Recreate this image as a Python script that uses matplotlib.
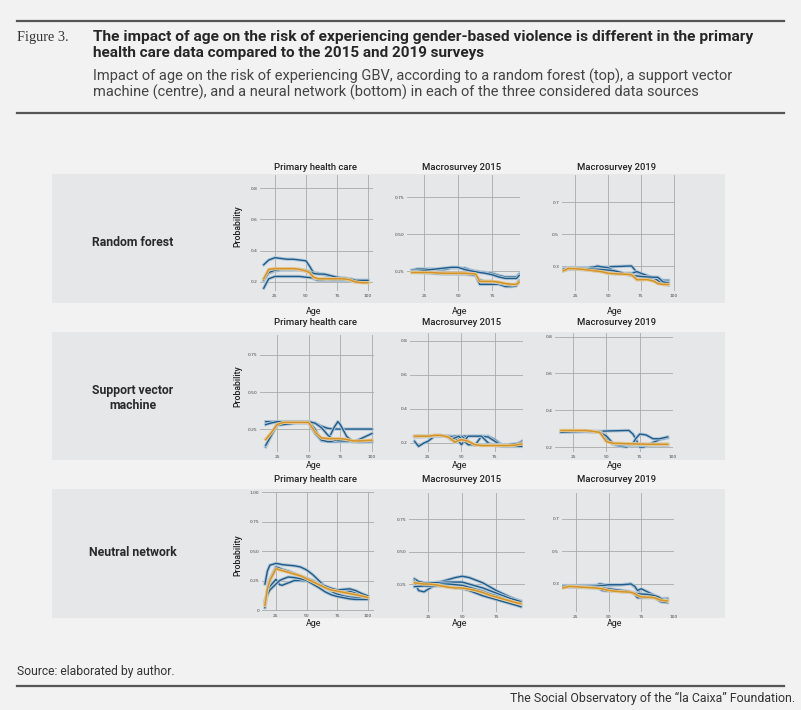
import matplotlib
matplotlib.use("Agg")
import matplotlib.pyplot as plt
import matplotlib.patheffects as pe
from matplotlib.patches import Rectangle
from matplotlib.lines import Line2D

# ---------------- data ----------------
row_labels = ["Random forest", "Support vector\nmachine", "Neutral network"]
col_labels = ["Primary health care", "Macrosurvey 2015", "Macrosurvey 2019"]

# Random forest - primary health care
rf_phc_age = [16, 20, 25, 30, 35, 40, 45, 50, 53, 56, 60, 65, 70, 75, 80, 85, 88, 90, 95, 100]
rf_phc_b1 = [0.31, 0.34, 0.355, 0.35, 0.345, 0.345, 0.34, 0.335, 0.30, 0.26, 0.255, 0.245, 0.235, 0.23, 0.225, 0.22, 0.215, 0.21, 0.21, 0.21]
rf_phc_b2 = [0.22, 0.255, 0.27, 0.275, 0.275, 0.275, 0.275, 0.27, 0.26, 0.22, 0.21, 0.21, 0.21, 0.21, 0.21, 0.21, 0.205, 0.20, 0.20, 0.20]
rf_phc_b3 = [0.16, 0.22, 0.235, 0.235, 0.235, 0.235, 0.235, 0.23, 0.228, 0.225, 0.22, 0.218, 0.215, 0.215, 0.215, 0.215, 0.205, 0.20, 0.20, 0.20]
rf_phc_b4 = [0.21, 0.26, 0.275, 0.28, 0.28, 0.28, 0.28, 0.275, 0.265, 0.255, 0.25, 0.25, 0.24, 0.23, 0.225, 0.22, 0.215, 0.21, 0.21, 0.21]
rf_phc_or = [0.22, 0.28, 0.285, 0.285, 0.285, 0.285, 0.28, 0.27, 0.26, 0.23, 0.22, 0.22, 0.22, 0.22, 0.22, 0.215, 0.205, 0.20, 0.195, 0.195]

# Random forest - macrosurvey 2015
rf_m15_age = [16, 20, 25, 30, 35, 40, 45, 50, 55, 60, 63, 66, 70, 75, 80, 85, 90, 93, 95]
rf_m15_b1 = [0.255, 0.265, 0.265, 0.265, 0.26, 0.26, 0.27, 0.27, 0.27, 0.255, 0.25, 0.245, 0.24, 0.235, 0.22, 0.21, 0.21, 0.21, 0.23]
rf_m15_b2 = [0.255, 0.255, 0.255, 0.26, 0.265, 0.27, 0.275, 0.275, 0.26, 0.25, 0.245, 0.24, 0.235, 0.225, 0.21, 0.20, 0.20, 0.20, 0.22]
rf_m15_b3 = [0.245, 0.245, 0.24, 0.238, 0.235, 0.23, 0.23, 0.23, 0.23, 0.225, 0.22, 0.16, 0.16, 0.16, 0.16, 0.145, 0.145, 0.15, 0.18]
rf_m15_b4 = [0.24, 0.24, 0.238, 0.235, 0.232, 0.232, 0.232, 0.23, 0.228, 0.225, 0.22, 0.19, 0.18, 0.18, 0.17, 0.16, 0.155, 0.16, 0.185]
rf_m15_or = [0.24, 0.24, 0.24, 0.24, 0.237, 0.235, 0.235, 0.235, 0.235, 0.232, 0.23, 0.18, 0.18, 0.18, 0.175, 0.165, 0.16, 0.16, 0.175]

# Random forest - macrosurvey 2019
rf_m19_age = [16, 20, 25, 30, 35, 40, 42, 45, 50, 55, 60, 65, 68, 72, 75, 80, 85, 88, 92, 96]
rf_m19_b1 = [0.28, 0.29, 0.29, 0.29, 0.29, 0.29, 0.29, 0.29, 0.295, 0.297, 0.298, 0.30, 0.30, 0.26, 0.25, 0.23, 0.228, 0.225, 0.21, 0.21]
rf_m19_b2 = [0.275, 0.29, 0.29, 0.29, 0.29, 0.295, 0.30, 0.295, 0.29, 0.27, 0.255, 0.255, 0.255, 0.265, 0.255, 0.24, 0.225, 0.215, 0.20, 0.20]
rf_m19_b3 = [0.27, 0.28, 0.28, 0.278, 0.275, 0.27, 0.268, 0.265, 0.255, 0.252, 0.25, 0.25, 0.25, 0.215, 0.215, 0.22, 0.225, 0.21, 0.185, 0.18]
rf_m19_b4 = [0.28, 0.285, 0.285, 0.285, 0.283, 0.28, 0.28, 0.278, 0.275, 0.27, 0.26, 0.245, 0.24, 0.238, 0.235, 0.232, 0.23, 0.23, 0.20, 0.195]
rf_m19_or = [0.27, 0.285, 0.283, 0.28, 0.275, 0.27, 0.268, 0.265, 0.255, 0.252, 0.25, 0.248, 0.245, 0.215, 0.215, 0.215, 0.205, 0.19, 0.185, 0.185]

# SVM - primary health care
svm_phc_age = [16, 20, 25, 30, 35, 40, 45, 50, 55, 60, 65, 70, 73, 75, 80, 85, 90, 95, 100]
svm_phc_b1 = [0.30, 0.30, 0.30, 0.30, 0.30, 0.30, 0.30, 0.30, 0.29, 0.27, 0.255, 0.25, 0.25, 0.25, 0.25, 0.25, 0.25, 0.25, 0.25]
svm_phc_b2 = [0.13, 0.20, 0.29, 0.30, 0.30, 0.30, 0.30, 0.30, 0.25, 0.17, 0.17, 0.26, 0.30, 0.28, 0.20, 0.165, 0.16, 0.162, 0.165]
svm_phc_b3 = [0.14, 0.20, 0.275, 0.28, 0.285, 0.29, 0.29, 0.29, 0.22, 0.175, 0.165, 0.165, 0.165, 0.165, 0.165, 0.165, 0.165, 0.165, 0.165]
svm_phc_b4 = [0.28, 0.29, 0.30, 0.30, 0.30, 0.30, 0.30, 0.30, 0.29, 0.26, 0.21, 0.175, 0.172, 0.17, 0.17, 0.165, 0.18, 0.20, 0.22]
svm_phc_or = [0.18, 0.22, 0.28, 0.295, 0.295, 0.295, 0.295, 0.295, 0.23, 0.19, 0.185, 0.185, 0.185, 0.185, 0.18, 0.17, 0.17, 0.172, 0.175]

# SVM - macrosurvey 2015
svm_m15_age = [15, 18, 22, 25, 30, 35, 40, 42, 45, 48, 50, 55, 60, 65, 70, 75, 80, 85, 90, 95]
svm_m15_b1 = [0.24, 0.24, 0.24, 0.24, 0.24, 0.24, 0.24, 0.24, 0.24, 0.24, 0.24, 0.24, 0.24, 0.24, 0.24, 0.22, 0.19, 0.185, 0.185, 0.21]
svm_m15_b2 = [0.21, 0.18, 0.20, 0.21, 0.24, 0.24, 0.24, 0.23, 0.205, 0.225, 0.24, 0.21, 0.185, 0.24, 0.235, 0.21, 0.185, 0.18, 0.18, 0.18]
svm_m15_b3 = [0.235, 0.235, 0.237, 0.238, 0.24, 0.24, 0.24, 0.238, 0.23, 0.21, 0.19, 0.24, 0.24, 0.24, 0.20, 0.185, 0.18, 0.18, 0.18, 0.18]
svm_m15_b4 = [0.24, 0.24, 0.24, 0.24, 0.245, 0.245, 0.235, 0.22, 0.23, 0.24, 0.225, 0.19, 0.19, 0.19, 0.19, 0.19, 0.19, 0.19, 0.195, 0.20]
svm_m15_or = [0.24, 0.24, 0.24, 0.24, 0.245, 0.245, 0.235, 0.225, 0.205, 0.215, 0.22, 0.21, 0.19, 0.185, 0.185, 0.185, 0.185, 0.185, 0.187, 0.195]

# SVM - macrosurvey 2019
svm_m19_age = [16, 25, 35, 45, 50, 55, 60, 65, 67, 70, 72, 75, 78, 80, 85, 90, 96]
svm_m19_b1 = [0.285, 0.285, 0.285, 0.285, 0.287, 0.288, 0.289, 0.29, 0.29, 0.27, 0.245, 0.20, 0.20, 0.205, 0.225, 0.24, 0.25]
svm_m19_b2 = [0.28, 0.283, 0.285, 0.285, 0.26, 0.215, 0.205, 0.20, 0.205, 0.22, 0.245, 0.27, 0.268, 0.265, 0.245, 0.245, 0.255]
svm_m19_b3 = [0.285, 0.285, 0.285, 0.28, 0.245, 0.215, 0.212, 0.21, 0.21, 0.21, 0.21, 0.21, 0.21, 0.21, 0.21, 0.21, 0.21]
svm_m19_b4 = [0.28, 0.283, 0.285, 0.28, 0.26, 0.22, 0.218, 0.215, 0.215, 0.215, 0.215, 0.215, 0.215, 0.215, 0.215, 0.215, 0.215]
svm_m19_or = [0.29, 0.29, 0.29, 0.28, 0.23, 0.22, 0.22, 0.218, 0.218, 0.217, 0.217, 0.216, 0.216, 0.215, 0.215, 0.215, 0.215]

# Neural network - primary health care
nn_phc_age = [16, 18, 20, 25, 28, 30, 35, 40, 45, 50, 55, 60, 65, 70, 75, 80, 85, 90, 95, 100]
nn_phc_b1 = [0.22, 0.33, 0.38, 0.395, 0.39, 0.385, 0.38, 0.375, 0.365, 0.34, 0.30, 0.25, 0.20, 0.16, 0.135, 0.12, 0.11, 0.105, 0.10, 0.10]
nn_phc_b2 = [0.02, 0.16, 0.26, 0.365, 0.355, 0.345, 0.33, 0.31, 0.29, 0.27, 0.25, 0.22, 0.19, 0.17, 0.165, 0.16, 0.16, 0.145, 0.125, 0.10]
nn_phc_b3 = [0.06, 0.14, 0.20, 0.26, 0.215, 0.21, 0.23, 0.25, 0.25, 0.245, 0.235, 0.22, 0.205, 0.185, 0.17, 0.175, 0.18, 0.165, 0.14, 0.12]
nn_phc_b4 = [0.08, 0.13, 0.17, 0.22, 0.25, 0.26, 0.28, 0.275, 0.265, 0.25, 0.22, 0.19, 0.155, 0.13, 0.115, 0.105, 0.095, 0.09, 0.09, 0.09]
nn_phc_or = [0.04, 0.18, 0.25, 0.35, 0.34, 0.335, 0.32, 0.305, 0.29, 0.265, 0.24, 0.215, 0.19, 0.17, 0.16, 0.15, 0.14, 0.13, 0.12, 0.105]

# Neural network - macrosurvey 2015
nn_m15_age = [15, 18, 22, 25, 30, 35, 40, 45, 50, 55, 60, 65, 70, 75, 80, 85, 90, 93]
nn_m15_b1 = [0.24, 0.245, 0.25, 0.255, 0.26, 0.27, 0.285, 0.30, 0.31, 0.30, 0.28, 0.26, 0.23, 0.20, 0.175, 0.15, 0.13, 0.12]
nn_m15_b2 = [0.29, 0.27, 0.26, 0.26, 0.26, 0.262, 0.265, 0.265, 0.265, 0.25, 0.235, 0.22, 0.20, 0.18, 0.16, 0.14, 0.125, 0.115]
nn_m15_b3 = [0.27, 0.20, 0.19, 0.21, 0.24, 0.25, 0.25, 0.245, 0.24, 0.225, 0.21, 0.195, 0.175, 0.16, 0.14, 0.12, 0.10, 0.09]
nn_m15_b4 = [0.23, 0.232, 0.235, 0.235, 0.235, 0.235, 0.23, 0.22, 0.215, 0.20, 0.18, 0.16, 0.145, 0.13, 0.115, 0.10, 0.085, 0.075]
nn_m15_or = [0.26, 0.255, 0.25, 0.25, 0.245, 0.235, 0.225, 0.22, 0.22, 0.21, 0.20, 0.185, 0.165, 0.15, 0.135, 0.12, 0.105, 0.10]

# Neural network - macrosurvey 2019
nn_m19_age = [15, 20, 30, 40, 43, 45, 50, 55, 60, 65, 67, 70, 72, 75, 80, 85, 88, 90, 95]
nn_m19_b1 = [0.285, 0.288, 0.29, 0.29, 0.30, 0.298, 0.29, 0.292, 0.295, 0.298, 0.30, 0.28, 0.26, 0.235, 0.228, 0.225, 0.22, 0.21, 0.21]
nn_m19_b2 = [0.29, 0.29, 0.29, 0.29, 0.29, 0.29, 0.295, 0.295, 0.295, 0.298, 0.30, 0.285, 0.26, 0.27, 0.25, 0.23, 0.22, 0.21, 0.20]
nn_m19_b3 = [0.28, 0.28, 0.278, 0.275, 0.27, 0.26, 0.255, 0.255, 0.252, 0.25, 0.25, 0.235, 0.215, 0.215, 0.215, 0.215, 0.20, 0.19, 0.185]
nn_m19_b4 = [0.285, 0.285, 0.283, 0.28, 0.278, 0.275, 0.27, 0.265, 0.26, 0.255, 0.25, 0.245, 0.24, 0.238, 0.235, 0.228, 0.22, 0.21, 0.195]
nn_m19_or = [0.275, 0.285, 0.28, 0.275, 0.272, 0.27, 0.26, 0.255, 0.252, 0.25, 0.248, 0.24, 0.23, 0.22, 0.218, 0.215, 0.205, 0.20, 0.195]

# axis ticks per panel
yt_rf = [[0.2, 0.4, 0.6, 0.8], [0.25, 0.50, 0.75], [0.3, 0.5, 0.7]]
yt_svm = [[0.25, 0.50, 0.75], [0.2, 0.4, 0.6, 0.8], [0.2, 0.4, 0.6, 0.8]]
yt_nn = [[0, 0.25, 0.50, 0.75, 1.00], [0.25, 0.50, 0.75], [0.3, 0.5, 0.7]]
yl_rf = [["0.2", "0.4", "0.6", "0.8"], ["0.25", "0.50", "0.75"], ["0.3", "0.5", "0.7"]]
yl_svm = [["0.25", "0.50", "0.75"], ["0.2", "0.4", "0.6", "0.8"], ["0.2", "0.4", "0.6", "0.8"]]
yl_nn = [["0", "0.25", "0.50", "0.75", "1.00"], ["0.25", "0.50", "0.75"], ["0.3", "0.5", "0.7"]]
xt_full = [25, 50, 75, 100]
xt_short = [25, 50, 75]

# ---------------- layout ----------------
W, H = 801, 710
BG = "#f2f2f2"
BAND = "#e6e7e9"
BLUE = "#1e5b8a"
ORANGE = "#d39327"
GRID = "#a9a9a9"

fig = plt.figure(figsize=(W / 100, H / 100), dpi=100, facecolor=BG)
renderer = fig.canvas.get_renderer()


def fx(x):
    return x / W


def fy(y):
    return 1 - y / H


def fit(x, y, s, w, ha="left", va="center", **kw):
    t = fig.text(fx(x), fy(y), s, ha=ha, va=va, fontsize=10, **kw)
    bb = t.get_window_extent(renderer)
    t.set_fontsize(10 * w / bb.width)
    return t


def hline(y, x0=17, x1=784, lw=1.6, c="#555555"):
    fig.add_artist(Line2D([fx(x0), fx(x1)], [fy(y), fy(y)], color=c, lw=lw,
                          transform=fig.transFigure))


# header
hline(21)
hline(113)
fit(17, 38, "Figure 3.", 51, family="Liberation Serif", color="#333333")
fit(93, 37, "The impact of age on the risk of experiencing gender-based violence is different in the primary",
    659, family="Roboto", fontweight="bold", color="#262626")
fit(93, 53, "health care data compared to the 2015 and 2019 surveys", 392,
    family="Roboto", fontweight="bold", color="#262626")
fit(93, 76, "Impact of age on the risk of experiencing GBV, according to a random forest (top), a support vector",
    640, family="Roboto", color="#444444")
fit(93, 92, "machine (centre), and a neural network (bottom) in each of the three considered data sources",
    605, family="Roboto", color="#444444")

# footer
fit(17, 672, "Source: elaborated by author.", 158, family="Roboto", color="#333333")
hline(686)
fit(795, 698, "The Social Observatory of the \u201cla Caixa\u201d Foundation.", 287, ha="right",
    family="Roboto", color="#333333")

# bands
bands = [(174, 303), (332, 460), (489, 618)]
for (t, b) in bands:
    fig.add_artist(Rectangle((fx(52), fy(b)), fx(725) - fx(52), (b - t) / H,
                             transform=fig.transFigure, facecolor=BAND, edgecolor="none", zorder=0))

# panel geometry (pixel boxes l, t, r, b) and limits
boxes = [
    [(260, 175, 373, 291), (407, 175, 520, 291), (562, 175, 675, 291)],
    [(260, 335, 374, 452), (410, 333, 523, 452), (555, 333, 673, 452)],
    [(262, 492, 374, 611), (409, 493, 525, 612), (562, 493, 674, 612)],
]
xlims = [
    [(13, 104), (12.5, 95.6), (15, 101)],
    [(11.5, 101.6), (11.6, 96), (11.5, 100)],
    [(13.6, 105), (11, 96), (14.3, 100)],
]
ylims = [
    [(0.142, 0.884), (0.115, 0.899), (0.144, 0.869)],
    [(0.095, 0.885), (0.147, 0.847), (0.173, 0.82)],
    [(-0.008, 1.0), (0.035, 0.95), (0.127, 0.86)],
]
xticks = [
    [xt_full, xt_short, xt_full],
    [xt_full, xt_short, xt_full],
    [xt_full, xt_short, xt_full],
]
yticks = [yt_rf, yt_svm, yt_nn]
ylabels = [yl_rf, yl_svm, yl_nn]

panels = [
    [(rf_phc_age, [rf_phc_b1, rf_phc_b2, rf_phc_b3, rf_phc_b4], rf_phc_or),
     (rf_m15_age, [rf_m15_b1, rf_m15_b2, rf_m15_b3, rf_m15_b4], rf_m15_or),
     (rf_m19_age, [rf_m19_b1, rf_m19_b2, rf_m19_b3, rf_m19_b4], rf_m19_or)],
    [(svm_phc_age, [svm_phc_b1, svm_phc_b2, svm_phc_b3, svm_phc_b4], svm_phc_or),
     (svm_m15_age, [svm_m15_b1, svm_m15_b2, svm_m15_b3, svm_m15_b4], svm_m15_or),
     (svm_m19_age, [svm_m19_b1, svm_m19_b2, svm_m19_b3, svm_m19_b4], svm_m19_or)],
    [(nn_phc_age, [nn_phc_b1, nn_phc_b2, nn_phc_b3, nn_phc_b4], nn_phc_or),
     (nn_m15_age, [nn_m15_b1, nn_m15_b2, nn_m15_b3, nn_m15_b4], nn_m15_or),
     (nn_m19_age, [nn_m19_b1, nn_m19_b2, nn_m19_b3, nn_m19_b4], nn_m19_or)],
]

halo_b = [pe.Stroke(linewidth=2.4, foreground="#b3c8d8"), pe.Normal()]
halo_o = [pe.Stroke(linewidth=2.4, foreground="#e6cc9c"), pe.Normal()]

col_title_y = [167, 322, 479]
age_y = [311, 466, 624]
prob_y = [226, 386, 555]
row_label_y = [243, 398, 553]
col_cx = [316, 462, 617]

for r in range(3):
    for c in range(3):
        l, t, rr, b = boxes[r][c]
        ax = fig.add_axes([fx(l), fy(b), (rr - l) / W, (b - t) / H])
        ax.set_facecolor("none")
        for s in ax.spines.values():
            s.set_visible(False)
        ax.set_xlim(*xlims[r][c])
        ax.set_ylim(*ylims[r][c])
        ax.set_xticks(xticks[r][c])
        ax.set_xticklabels([str(v) for v in xticks[r][c]])
        ax.set_yticks(yticks[r][c])
        ax.set_yticklabels(ylabels[r][c])
        ax.tick_params(axis="both", length=0, labelsize=3.2, labelcolor="#444444", pad=2)
        ax.grid(True, color=GRID, lw=0.6)
        ax.set_axisbelow(True)
        ages, blues, orange = panels[r][c]
        for ys in blues:
            ax.plot(ages, ys, color=BLUE, lw=1.0, path_effects=halo_b, solid_joinstyle="round")
        ax.plot(ages, orange, color=ORANGE, lw=1.1, path_effects=halo_o, solid_joinstyle="round")

        fig.text(fx(col_cx[c]), fy(col_title_y[r]), col_labels[c], ha="center", va="center",
                 fontsize=6.8, family="Roboto", fontweight="medium", color="#222222")
        fig.text(fx(col_cx[c] - 2), fy(age_y[r]), "Age", ha="center", va="center",
                 fontsize=6.4, family="Roboto", color="#222222")
    fig.text(fx(238), fy(prob_y[r]), "Probability", ha="center", va="center", rotation=90,
             fontsize=6.2, family="Roboto", fontweight="medium", color="#222222")
    fig.text(fx(133), fy(row_label_y[r]), row_labels[r], ha="center", va="center",
             fontsize=8.8, family="Roboto", fontweight="bold", color="#2a2a2a",
             linespacing=1.25)

fig.savefig("out.png", dpi=100, facecolor=BG)
